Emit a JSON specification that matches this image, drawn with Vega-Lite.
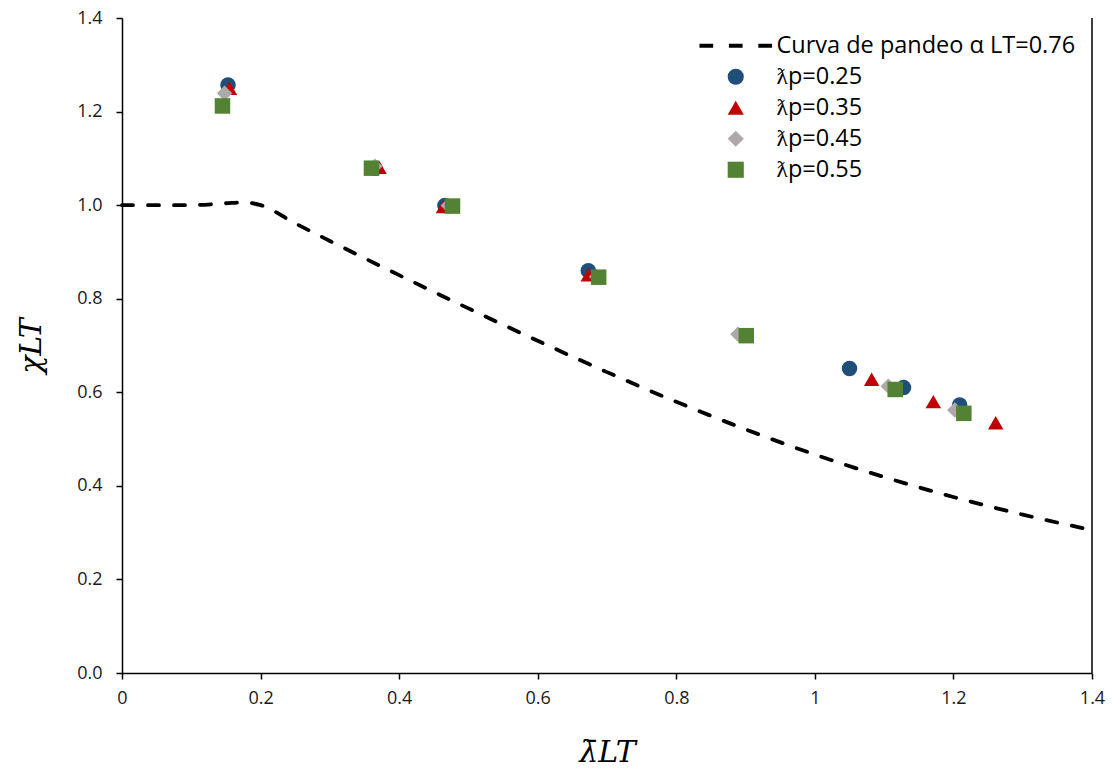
{
  "$schema": "https://vega.github.io/schema/vega-lite/v6.json",
  "width": 970,
  "height": 655,
  "autosize": {"type": "none"},
  "padding": {"left": 122, "top": 18, "right": 24, "bottom": 111},
  "background": "white",
  "config": {
    "view": {"stroke": null},
    "axis": {"grid": false, "domainColor": "#000", "domainWidth": 1.5, "tickColor": "#000", "tickWidth": 1.5, "tickSize": 6, "labelFlush": false, "labelFont": "Open Sans", "labelFontSize": 18, "labelColor": "#1a1a1a", "titleFont": "DejaVu Serif", "titleFontStyle": "italic", "titleFontWeight": "normal", "titleColor": "#000", "titleFontSize": 30},
    "legend": {"labelFont": "Open Sans", "labelFontSize": 23.5, "labelColor": "#000", "labelLimit": 0, "symbolSize": 260, "labelOffset": 29, "rowPadding": 6, "orient": "top-right", "offset": 8, "padding": 8, "symbolStrokeWidth": 0}
  },
  "datasets": {
    "curve": [
      {"lam": 0.0, "chi": 1.0}, {"lam": 0.05, "chi": 1.0}, {"lam": 0.1, "chi": 1.0}, {"lam": 0.15, "chi": 1.004}, {"lam": 0.175, "chi": 1.006}, {"lam": 0.2, "chi": 1.0},
      {"lam": 0.25, "chi": 0.961}, {"lam": 0.3, "chi": 0.9235}, {"lam": 0.35, "chi": 0.8866}, {"lam": 0.4, "chi": 0.8504},
      {"lam": 0.5, "chi": 0.7793}, {"lam": 0.6, "chi": 0.710}, {"lam": 0.7, "chi": 0.6431}, {"lam": 0.8, "chi": 0.5797},
      {"lam": 0.9, "chi": 0.5208}, {"lam": 1.0, "chi": 0.467}, {"lam": 1.1, "chi": 0.4189}, {"lam": 1.2, "chi": 0.3762},
      {"lam": 1.3, "chi": 0.3385}, {"lam": 1.4, "chi": 0.3055}
    ],
    "pts": [
      {"serie": "ƛp=0.25", "lam": 0.153, "chi": 1.257}, {"serie": "ƛp=0.25", "lam": 0.365, "chi": 1.079}, {"serie": "ƛp=0.25", "lam": 0.466, "chi": 0.999}, {"serie": "ƛp=0.25", "lam": 0.673, "chi": 0.860}, {"serie": "ƛp=0.25", "lam": 1.050, "chi": 0.651}, {"serie": "ƛp=0.25", "lam": 1.128, "chi": 0.610}, {"serie": "ƛp=0.25", "lam": 1.209, "chi": 0.573},
      {"serie": "ƛp=0.35", "lam": 0.155, "chi": 1.250}, {"serie": "ƛp=0.35", "lam": 0.371, "chi": 1.081}, {"serie": "ƛp=0.35", "lam": 0.464, "chi": 0.997}, {"serie": "ƛp=0.35", "lam": 0.673, "chi": 0.851}, {"serie": "ƛp=0.35", "lam": 1.082, "chi": 0.628}, {"serie": "ƛp=0.35", "lam": 1.171, "chi": 0.580}, {"serie": "ƛp=0.35", "lam": 1.261, "chi": 0.535},
      {"serie": "ƛp=0.45", "lam": 0.148, "chi": 1.239}, {"serie": "ƛp=0.45", "lam": 0.365, "chi": 1.083}, {"serie": "ƛp=0.45", "lam": 0.471, "chi": 0.999}, {"serie": "ƛp=0.45", "lam": 0.685, "chi": 0.847}, {"serie": "ƛp=0.45", "lam": 0.889, "chi": 0.724}, {"serie": "ƛp=0.45", "lam": 1.106, "chi": 0.613}, {"serie": "ƛp=0.45", "lam": 1.202, "chi": 0.562},
      {"serie": "ƛp=0.55", "lam": 0.145, "chi": 1.212}, {"serie": "ƛp=0.55", "lam": 0.360, "chi": 1.079}, {"serie": "ƛp=0.55", "lam": 0.477, "chi": 0.998}, {"serie": "ƛp=0.55", "lam": 0.688, "chi": 0.846}, {"serie": "ƛp=0.55", "lam": 0.901, "chi": 0.721}, {"serie": "ƛp=0.55", "lam": 1.116, "chi": 0.606}, {"serie": "ƛp=0.55", "lam": 1.215, "chi": 0.555}
    ],
    "border": [{"lam": 1.4}]
  },
  "encoding": {
    "x": {"field": "lam", "type": "quantitative", "scale": {"domain": [0, 1.4], "nice": false, "zero": false},
      "axis": {"values": [0, 0.2, 0.4, 0.6, 0.8, 1, 1.2, 1.4], "format": "~g", "title": "λ̄LT", "titlePadding": 30, "labelPadding": 10}},
    "y": {"field": "chi", "type": "quantitative", "scale": {"domain": [0, 1.4], "nice": false, "zero": false},
      "axis": {"values": [0, 0.2, 0.4, 0.6, 0.8, 1, 1.2, 1.4], "format": ".1f", "title": "χLT", "titlePadding": 30, "labelPadding": 14}}
  },
  "layer": [
    {
      "data": {"name": "border"},
      "mark": {"type": "rule", "color": "#000", "strokeWidth": 1.5},
      "encoding": {"y": null}
    },
    {
      "data": {"name": "curve"},
      "mark": {"type": "line", "color": "#000", "strokeWidth": 3.8, "strokeDash": [11, 15], "strokeCap": "round", "interpolate": "monotone"},
      "encoding": {}
    },
    {
      "data": {"name": "pts"},
      "mark": {"type": "point", "filled": true, "opacity": 1, "strokeWidth": 0, "size": 240},
      "encoding": {
        "shape": {"field": "serie", "type": "nominal", "scale": {"domain": ["Curva de pandeo α LT=0.76", "ƛp=0.25", "ƛp=0.35", "ƛp=0.45", "ƛp=0.55"], "range": ["M-4.5,-0.25H-2.8V0.25H-4.5Z M-0.85,-0.25H0.85V0.25H-0.85Z M2.8,-0.25H4.5V0.25H2.8Z", "circle", "triangle-up", "diamond", "square"]}, "legend": {"title": null}},
        "color": {"field": "serie", "type": "nominal", "scale": {"domain": ["Curva de pandeo α LT=0.76", "ƛp=0.25", "ƛp=0.35", "ƛp=0.45", "ƛp=0.55"], "range": ["#000000", "#1F4E79", "#C00000", "#ADA9A9", "#548235"]}, "legend": {"title": null}},
        "order": {"field": "serie", "sort": "ascending"}
      }
    }
  ]
}
